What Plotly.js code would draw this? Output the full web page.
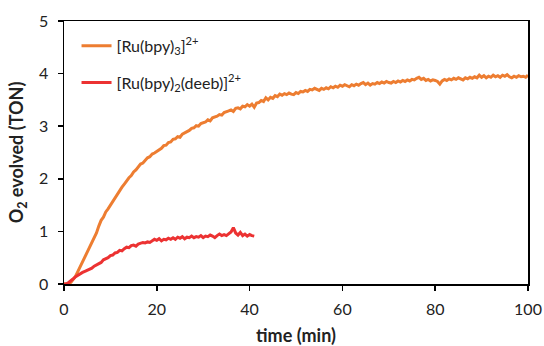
<!DOCTYPE html>
<html>
<head>
<meta charset="utf-8">
<script src="https://cdn.plot.ly/plotly-3.0.1.min.js"></script>
<style>html,body{margin:0;padding:0;background:#fff;}#chart{width:544px;height:346px;}</style>
</head>
<body>
<div id="chart"></div>
<script>
// time step of samples (min)
const timeStart = 0;
const timeStep = 0.5;

const seriesNames = ['[Ru(bpy)<sub>3</sub>]<sup>2+</sup>', '[Ru(bpy)<sub>2</sub>(deeb)]<sup>2+</sup>'];

// [Ru(bpy)3]2+  O2 evolved (TON), every 0.5 min from 0 to 100 min
const ruBpy3 = [
  0.00,0.00,0.01,0.03,0.08,0.15,0.24,0.33,0.41,0.50,
  0.59,0.68,0.77,0.86,0.97,1.10,1.21,1.27,1.37,1.43,
  1.50,1.58,1.63,1.72,1.79,1.84,1.90,1.97,2.02,2.06,
  2.13,2.17,2.22,2.28,2.30,2.36,2.40,2.42,2.47,2.49,
  2.52,2.56,2.58,2.63,2.64,2.69,2.70,2.75,2.76,2.80,
  2.79,2.85,2.87,2.90,2.92,2.96,2.97,3.01,3.00,3.05,
  3.07,3.08,3.12,3.10,3.16,3.17,3.19,3.22,3.21,3.26,
  3.27,3.29,3.31,3.28,3.34,3.35,3.33,3.38,3.37,3.41,
  3.38,3.42,3.36,3.44,3.45,3.49,3.47,3.54,3.50,3.55,
  3.53,3.58,3.56,3.61,3.59,3.62,3.60,3.63,3.61,3.60,
  3.64,3.62,3.66,3.65,3.68,3.66,3.70,3.69,3.72,3.70,
  3.68,3.72,3.70,3.73,3.71,3.75,3.73,3.76,3.74,3.78,
  3.76,3.79,3.77,3.75,3.79,3.77,3.80,3.78,3.81,3.83,
  3.79,3.82,3.78,3.81,3.80,3.83,3.81,3.84,3.82,3.85,
  3.83,3.82,3.85,3.83,3.86,3.84,3.87,3.85,3.88,3.86,
  3.89,3.88,3.91,3.93,3.89,3.91,3.87,3.89,3.86,3.88,
  3.87,3.85,3.80,3.86,3.89,3.87,3.90,3.88,3.91,3.89,
  3.92,3.90,3.88,3.92,3.90,3.93,3.91,3.94,3.92,3.97,
  3.93,3.96,3.92,3.95,3.93,3.97,3.94,3.96,3.93,3.97,
  3.95,3.98,3.94,3.92,3.95,3.93,3.96,3.94,3.95,3.93,
  3.97
];

// [Ru(bpy)2(deeb)]2+  O2 evolved (TON), every 0.5 min from 0 to 41 min
const ruBpy2Deeb = [
  0.00,0.00,0.03,0.06,0.10,0.14,0.17,0.20,0.22,0.24,
  0.26,0.29,0.30,0.34,0.36,0.39,0.41,0.46,0.48,0.50,
  0.54,0.55,0.59,0.60,0.64,0.63,0.67,0.70,0.69,0.73,
  0.74,0.72,0.76,0.77,0.79,0.78,0.80,0.79,0.82,0.85,
  0.83,0.86,0.82,0.85,0.84,0.87,0.85,0.88,0.85,0.89,
  0.87,0.90,0.86,0.89,0.88,0.91,0.88,0.90,0.89,0.92,
  0.88,0.91,0.90,0.93,0.91,0.88,0.92,0.95,0.92,0.94,
  0.92,0.96,0.99,1.07,0.97,0.93,0.98,0.92,0.95,0.91,
  0.94,0.92,0.91
];

const xTicks = [0, 20, 40, 60, 80, 100];
const yTicks = [0, 1, 2, 3, 4, 5];

const colors = ['#ED7D31', '#EC3232'];
const fontFam = 'Lato, "Open Sans", sans-serif';

const traces = [
  {y: ruBpy3, x0: timeStart, dx: timeStep, type: 'scatter', mode: 'lines', name: seriesNames[0],
   legendgroup: 'a', line: {color: colors[0], width: 3}},
  {y: ruBpy2Deeb, x0: timeStart, dx: timeStep, type: 'scatter', mode: 'lines', name: seriesNames[1],
   legendgroup: 'b', line: {color: colors[1], width: 3}}
];

const axisCommon = {
  showgrid: false, zeroline: false, showline: true, mirror: true,
  linecolor: '#000', linewidth: 1.5, ticks: 'outside', ticklen: 5, tickwidth: 1.5, tickcolor: '#000',
  tickfont: {family: fontFam, size: 16, color: '#222'}
};

const layout = {
  width: 544, height: 346,
  margin: {l: 64, r: 16, t: 21, b: 62},
  paper_bgcolor: '#fff', plot_bgcolor: '#fff',
  font: {family: fontFam, color: '#222'},
  showlegend: true,
  legend: {x: 0.027, y: 0.97, xanchor: 'left', yanchor: 'top', bgcolor: 'rgba(0,0,0,0)',
           tracegroupgap: 13, itemwidth: 30,
           font: {family: fontFam, size: 16, color: '#222'}},
  xaxis: Object.assign({}, axisCommon, {range: [0, 100], tickvals: xTicks, ticklabelstandoff: 5,
    title: {text: '<b>time (min)</b>', font: {family: fontFam, size: 18, color: '#222'}, standoff: 15}}),
  yaxis: Object.assign({}, axisCommon, {range: [0, 5], tickvals: yTicks, ticklabelstandoff: 6,
    title: {text: '<b>O<sub>2</sub> evolved (TON)</b>', font: {family: fontFam, size: 18, color: '#222'}, standoff: 10}})
};

Plotly.newPlot('chart', traces, layout, {displayModeBar: false, staticPlot: true});
</script>
</body>
</html>
